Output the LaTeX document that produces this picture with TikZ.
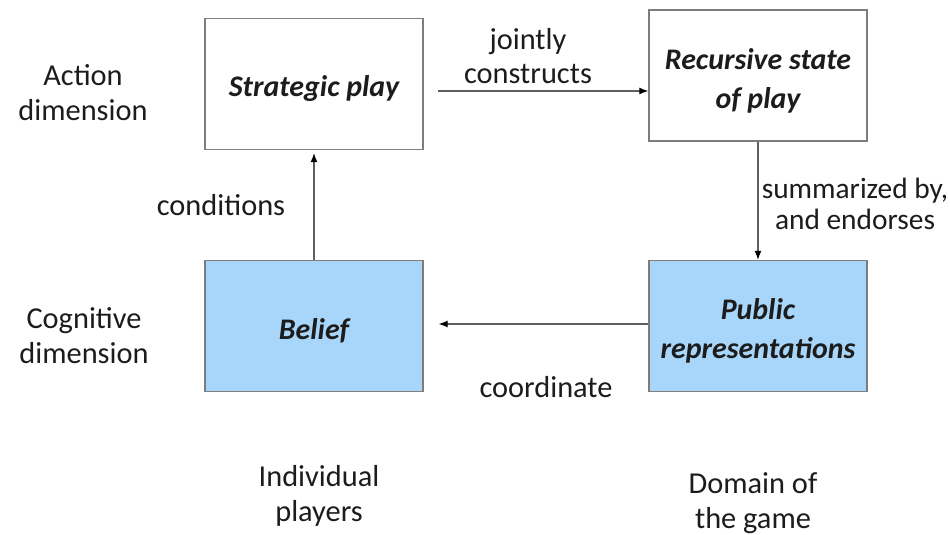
\documentclass[tikz,border=0pt]{standalone}
\usepackage{fontspec}
\setmainfont{Carlito}
\usetikzlibrary{positioning}
\usetikzlibrary{arrows.meta}
\definecolor{boxblue}{RGB}{168,214,250}
\definecolor{edgegray}{RGB}{125,125,125}
\definecolor{linegray}{RGB}{95,95,95}
\definecolor{ink}{RGB}{28,28,28}
\newcommand{\stage}[4]{
	\node[stagebox, fill=#3] (#1) at #2 {};
	\node[stagetext] (#1-txt) at ([yshift=-5bp]#1.center) {#4};
}
\newcommand{\tag}[3]{
	\node[lbl] (#1) at #2 {#3};
}

\begin{document}
\begin{tikzpicture}[x=1bp, y=-1bp,
	stagebox/.style={draw=edgegray, line width=1.4bp, minimum width=218bp, minimum height=131bp},
	stagetext/.style={align=center, text=ink, font=\fontsize{30}{39}\selectfont\bfseries\itshape},
	lbl/.style={align=center, text=ink, font=\fontsize{30.5}{35}\selectfont},
	flow/.style={draw=linegray, line width=1.2bp, -{Latex[length=9bp,width=7bp,color=black]}}]

	%fix the page to the reference size
	\useasboundingbox[fill=white] (0,0) rectangle (950,535);

	%the four boxes
	\stage{strat}{(314,84)}{white}{Strategic play}
	\stage{rec}{(758,75.5)}{white}{Recursive state\\of play}
	\stage{bel}{(314,326)}{boxblue}{Belief}
	\stage{pub}{(758,326)}{boxblue}{Public\\representations}

	%arrows round the loop
	\draw[flow, shorten <=14bp] ([yshift=-7bp]strat.east) -- ([yshift=-7bp]strat.east -| rec.west);
	\draw[flow] (rec.south) -- (pub.north);
	\draw[flow, shorten >=15bp] ([yshift=2bp]pub.west) -- ([yshift=2bp]pub.west -| bel.east);
	\draw[flow, shorten >=3bp] (bel.north) -- (strat.south);

	%arrow labels
	\tag{joint}{(528,56)}{jointly\\constructs}
	\node[lbl, font=\fontsize{29.5}{31}\selectfont] (summ) at (855,204) {summarized by,\\and endorses};
	\tag{cond}{(221,205)}{conditions}
	\tag{coord}{(546,387)}{coordinate}

	%row and column headings
	\tag{act}{(83,93)}{Action\\dimension}
	\tag{cog}{(84,336)}{Cognitive\\dimension}
	\tag{indiv}{(319,496)}{Individual\\players}
	\tag{dom}{(753,503)}{Domain of\\the game}

\end{tikzpicture}
\end{document}
